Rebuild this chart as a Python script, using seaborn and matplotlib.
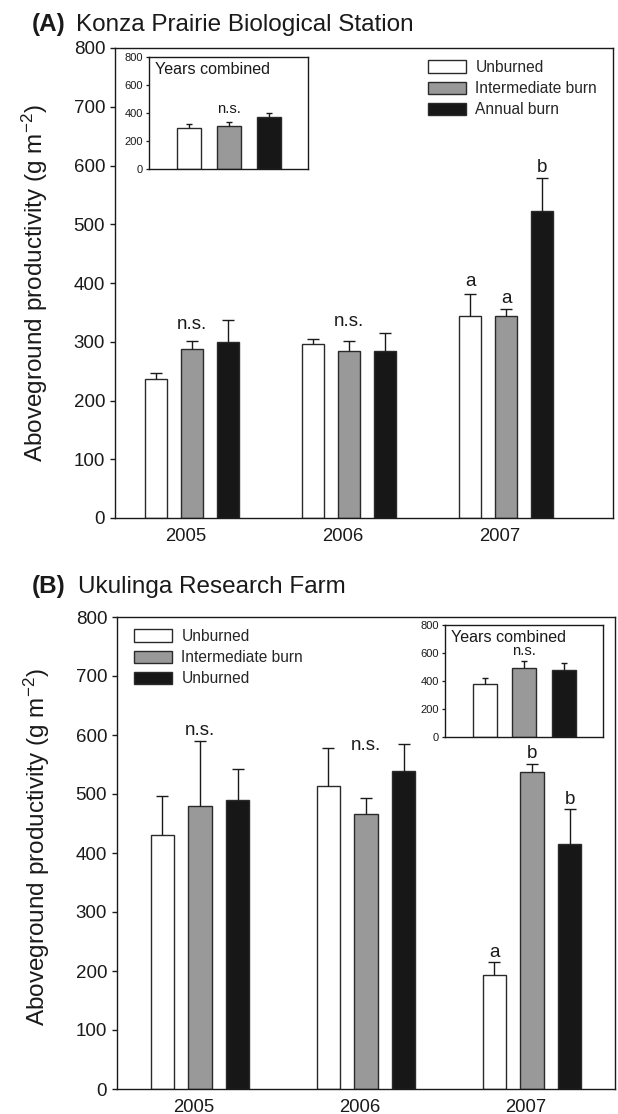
import numpy as np
import pandas as pd
import matplotlib
matplotlib.use("Agg")
import matplotlib.pyplot as plt
import seaborn as sns
from matplotlib.transforms import ScaledTranslation

# ---------------------------------------------------------------- data
years = ["2005", "2006", "2007"]
treatments = ["Unburned", "Intermediate burn", "Annual burn"]
legend_labels_a = ["Unburned", "Intermediate burn", "Annual burn"]
legend_labels_b = ["Unburned", "Intermediate burn", "Unburned"]

# Konza Prairie Biological Station (g m-2), mean and SE per year
konza_unburned = [236, 296, 344]
konza_intermediate = [287, 285, 344]
konza_annual = [300, 285, 523]
konza_unburned_se = [10, 9, 38]
konza_intermediate_se = [14, 17, 12]
konza_annual_se = [37, 30, 56]

# Konza, years combined
konza_combined = [295, 307, 371]
konza_combined_se = [26, 29, 29]

# Ukulinga Research Farm (g m-2), mean and SE per year
ukulinga_unburned = [430, 513, 194]
ukulinga_intermediate = [480, 466, 538]
ukulinga_annual = [489, 539, 416]
ukulinga_unburned_se = [66, 65, 21]
ukulinga_intermediate_se = [110, 28, 13]
ukulinga_annual_se = [54, 46, 58]

# Ukulinga, years combined
ukulinga_combined = [376, 491, 480]
ukulinga_combined_se = [48, 51, 47]

# significance letters: (year, treatment, y position, text)
konza_letters = [("2005", 1, 330, "n.s."), ("2006", 1, 334, "n.s."),
                 ("2007", 0, 402, "a"), ("2007", 1, 374, "a"),
                 ("2007", 2, 596, "b")]
ukulinga_letters = [("2005", 1, 608, "n.s."), ("2006", 1, 583, "n.s."),
                    ("2007", 0, 232, "a"), ("2007", 1, 569, "b"),
                    ("2007", 2, 491, "b")]

# ---------------------------------------------------------------- style
sns.set_theme(style="white")
plt.rcParams["font.family"] = ["Liberation Sans", "DejaVu Sans"]
plt.rcParams["mathtext.fontset"] = "custom"
plt.rcParams["mathtext.rm"] = "Liberation Sans"
plt.rcParams["mathtext.it"] = "Liberation Sans:italic"
plt.rcParams["mathtext.bf"] = "Liberation Sans:bold"

colors = ["#ffffff", "#999999", "#171717"]
EDGE = "#2a2a2a"
INK = "#1a1a1a"

W, H = 618, 1114
fig = plt.figure(figsize=(W / 100, H / 100), dpi=100)


def rect(left, top, right, bottom):
    return [left / W, 1 - bottom / H, (right - left) / W, (bottom - top) / H]


def style_box(ax):
    for s in ax.spines.values():
        s.set_visible(True)
        s.set_color(INK)
        s.set_linewidth(1.0)


def add_errorbars(ax, errs, capsize):
    for cont, err in zip(ax.containers, errs):
        xs = [b.get_x() + b.get_width() / 2 for b in cont]
        ys = [b.get_height() for b in cont]
        _, caps, _ = ax.errorbar(xs, ys, yerr=[np.zeros(len(err)), err],
                                 fmt="none", ecolor=INK, elinewidth=1.0,
                                 capsize=capsize, capthick=1.0, zorder=3)
        if len(caps) == 2:
            caps[0].set_visible(False)


def main_panel(ax, means, errs, letters, xlim, legend_labels, legend_anchor,
               label_y):
    df = pd.DataFrame({
        "year": years * len(treatments),
        "treatment": np.repeat(treatments, len(years)),
        "value": np.concatenate(means),
    })
    sns.barplot(data=df, x="year", y="value", hue="treatment",
                order=years, hue_order=treatments, palette=colors,
                saturation=1, width=0.684, gap=0.39, edgecolor=EDGE,
                linewidth=1.0, errorbar=None, legend=False, ax=ax)
    add_errorbars(ax, errs, capsize=4.3)

    ax.set_ylim(0, 800)
    ax.set_xlim(*xlim)
    ax.set_yticks(range(0, 801, 100))
    ax.tick_params(axis="y", direction="out", length=3.6, width=1.0,
                   pad=3.5, labelsize=13.5, colors=INK, left=True)
    ax.tick_params(axis="x", length=0, pad=7, labelsize=13.3, colors=INK)
    shift = ScaledTranslation(-6 / 100, 0, fig.dpi_scale_trans)
    for lab in ax.get_xticklabels():
        lab.set_transform(lab.get_transform() + shift)
    ax.set_xlabel("")
    ax.set_ylabel("Aboveground productivity (g m$^{-2}$)", fontsize=17.5,
                  color=INK)
    ax.yaxis.set_label_coords(-0.1305, label_y)
    style_box(ax)

    # significance letters centred over bars
    for year, t, y, txt in letters:
        bar = ax.containers[t][years.index(year)]
        ax.text(bar.get_x() + bar.get_width() / 2, y, txt, ha="center",
                va="center", fontsize=13.5, color=INK)

    ax.legend(ax.containers, legend_labels, loc="upper left",
              bbox_to_anchor=legend_anchor, bbox_transform=fig.transFigure,
              frameon=False, fontsize=11.2, handlelength=2.45,
              handleheight=0.85, handletextpad=0.6, labelspacing=0.4,
              borderpad=0, borderaxespad=0)


def inset_panel(ax, means, errs, ns_y):
    sns.barplot(x=treatments, y=means, hue=treatments, order=treatments,
                hue_order=treatments, palette=colors, saturation=1,
                width=0.6, edgecolor=EDGE, linewidth=1.0, errorbar=None,
                legend=False, ax=ax)
    add_errorbars(ax, [[e] for e in errs], capsize=2.2)
    ax.set_ylim(0, 800)
    ax.set_xlim(-1.0, 2.98)
    ax.set_yticks(range(0, 801, 200))
    ax.set_xticks([])
    ax.tick_params(axis="y", direction="out", length=2.2, width=0.9,
                   pad=2.2, labelsize=8, colors=INK, left=True)
    ax.set_xlabel("")
    ax.set_ylabel("")
    style_box(ax)
    ax.text(0.035, 0.89, "Years combined", transform=ax.transAxes,
            ha="left", va="center", fontsize=11.6, color=INK)
    ax.text(1, ns_y, "n.s.", ha="center", va="center", fontsize=10.7,
            color=INK)


# ---------------------------------------------------------------- panel A
ax_a = fig.add_axes(rect(115, 48, 613, 518))
main_panel(ax_a,
           [konza_unburned, konza_intermediate, konza_annual],
           [konza_unburned_se, konza_intermediate_se, konza_annual_se],
           konza_letters, (-0.49, 2.68), legend_labels_a,
           (428 / W, 1 - 60 / H), 0.5)
ax_a_in = fig.add_axes(rect(149, 57, 308, 169))
inset_panel(ax_a_in, konza_combined, konza_combined_se, 430)

fig.text(32 / W, 1 - 31.5 / H, "(A)", fontsize=17.5, fontweight="bold",
         ha="left", va="baseline", color=INK)
fig.text(76 / W, 1 - 31.5 / H, "Konza Prairie Biological Station",
         fontsize=17.5, ha="left", va="baseline", color=INK)

# ---------------------------------------------------------------- panel B
ax_b = fig.add_axes(rect(117, 617, 615, 1089))
main_panel(ax_b,
           [ukulinga_unburned, ukulinga_intermediate, ukulinga_annual],
           [ukulinga_unburned_se, ukulinga_intermediate_se,
            ukulinga_annual_se],
           ukulinga_letters, (-0.5, 2.5), legend_labels_b,
           (134 / W, 1 - 629 / H), 0.513)
ax_b_in = fig.add_axes(rect(445, 625, 603, 737))
inset_panel(ax_b_in, ukulinga_combined, ukulinga_combined_se, 614)

fig.text(32 / W, 1 - 593 / H, "(B)", fontsize=17.5, fontweight="bold",
         ha="left", va="baseline", color=INK)
fig.text(78 / W, 1 - 593 / H, "Ukulinga Research Farm", fontsize=17.5,
         ha="left", va="baseline", color=INK)

fig.savefig("out.png", dpi=100, facecolor="white")
